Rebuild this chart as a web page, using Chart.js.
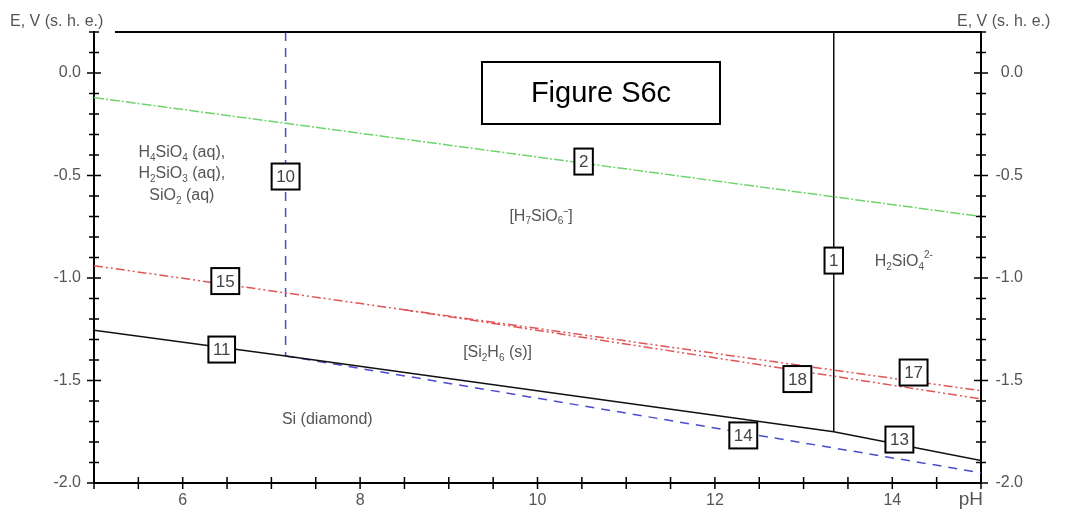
<!DOCTYPE html>
<html>
<head>
<meta charset="utf-8">
<script src="https://cdn.jsdelivr.net/npm/chart.js@4.4.1/dist/chart.umd.min.js"></script>
<style>
  body { margin: 0; background: #fff; }
  canvas { display: block; }
</style>
</head>
<body>
<canvas id="chart" width="1068" height="514"></canvas>
<script>
// pH / E (V vs SHE) points
var waterPH = [5, 15];
var waterE = [-0.12, -0.70];

var line10PH = [7.16, 7.16];
var line10E = [0.2, -1.38];

var line1PH = [13.34, 13.34];
var line1E = [0.2, -1.75];

var siPH = [5, 7.16, 13.34, 15];
var siE = [-1.255, -1.38, -1.75, -1.89];

var line14PH = [7.16, 15];
var line14E = [-1.38, -1.95];

var line17PH = [5, 8.5, 15];
var line17E = [-0.94, -1.155, -1.55];

var line18PH = [8.5, 15];
var line18E = [-1.155, -1.59];

// boxed line numbers
var boxText = ['10', '2', '15', '11', '1', '18', '17', '14', '13'];
var boxPH = [7.16, 10.52, 6.48, 6.44, 13.34, 12.93, 14.24, 12.32, 14.08];
var boxE = [-0.505, -0.432, -1.015, -1.349, -0.915, -1.493, -1.461, -1.768, -1.788];

// species labels: [text, 0 normal / 1 sub / 2 sup]
var regionText = [
    [['H', 0], ['4', 1], ['SiO', 0], ['4', 1], [' (aq),', 0]],
    [['H', 0], ['2', 1], ['SiO', 0], ['3', 1], [' (aq),', 0]],
    [['SiO', 0], ['2', 1], [' (aq)', 0]],
    [['[H', 0], ['7', 1], ['SiO', 0], ['6', 1], ['\u207B]', 0]],
    [['H', 0], ['2', 1], ['SiO', 0], ['4', 1], ['2-', 2]],
    [['[Si', 0], ['2', 1], ['H', 0], ['6', 1], [' (s)]', 0]],
    [['Si (diamond)', 0]]
];
var regionPH = [5.99, 5.99, 5.99, 10.04, 14.13, 9.55, 7.63];
var regionE = [-0.39, -0.493, -0.60, -0.702, -0.922, -1.366, -1.693];

function pts(xs, ys) {
    return xs.map(function (v, i) { return {x: v, y: ys[i]}; });
}

var FONT = '"Liberation Sans", Arial, sans-serif';

function richText(ctx, parts, cx, cy, size) {
    var small = Math.round(size * 0.65);
    var w = 0;
    parts.forEach(function (p) {
        ctx.font = (p[1] ? small : size) + 'px ' + FONT;
        w += ctx.measureText(p[0]).width;
    });
    var xx = cx - w / 2;
    ctx.textAlign = 'left';
    ctx.textBaseline = 'middle';
    parts.forEach(function (p) {
        ctx.font = (p[1] ? small : size) + 'px ' + FONT;
        var dy = p[1] === 1 ? size * 0.3 : (p[1] === 2 ? -size * 0.45 : 0);
        ctx.fillText(p[0], xx, cy + dy);
        xx += ctx.measureText(p[0]).width;
    });
}

var decor = {
    id: 'decor',
    afterDraw: function (chart) {
        var ctx = chart.ctx, a = chart.chartArea;
        var x = chart.scales.x, y = chart.scales.y;
        ctx.save();
        ctx.strokeStyle = '#000';
        ctx.lineWidth = 2;

        // top frame line
        ctx.beginPath();
        ctx.moveTo(115, a.top);
        ctx.lineTo(a.right, a.top);
        ctx.stroke();

        // tick marks crossing the axes
        ctx.lineWidth = 1.5;
        ctx.beginPath();
        x.ticks.forEach(function (t) {
            var px = x.getPixelForValue(t.value);
            var len = 6;
            ctx.moveTo(px, a.bottom - len);
            ctx.lineTo(px, a.bottom + len);
        });
        y.ticks.forEach(function (t) {
            var py = y.getPixelForValue(t.value);
            var len = t.label ? 7 : 5;
            ctx.moveTo(a.left - len, py);
            ctx.lineTo(a.left + len, py);
            ctx.moveTo(a.right - len, py);
            ctx.lineTo(a.right + len, py);
        });
        ctx.stroke();

        // axis titles
        ctx.fillStyle = '#555';
        ctx.font = '16px ' + FONT;
        ctx.textBaseline = 'middle';
        ctx.textAlign = 'left';
        ctx.fillText('E, V (s. h. e.)', 10, 22);
        ctx.fillText('E, V (s. h. e.)', 957, 22);
        ctx.font = '19px ' + FONT;
        ctx.textAlign = 'right';
        ctx.fillText('pH', a.right + 2, 500);

        // species labels
        ctx.fillStyle = '#555';
        regionText.forEach(function (parts, i) {
            richText(ctx, parts, x.getPixelForValue(regionPH[i]), y.getPixelForValue(regionE[i]), 16);
        });

        // boxed line numbers
        ctx.font = '17px ' + FONT;
        boxText.forEach(function (t, i) {
            var cx = x.getPixelForValue(boxPH[i]);
            var cy = y.getPixelForValue(boxE[i]);
            var w = Math.max(15, ctx.measureText(t).width + 9);
            var h = 26;
            ctx.fillStyle = '#fff';
            ctx.fillRect(cx - w / 2, cy - h / 2, w, h);
            ctx.lineWidth = 2;
            ctx.strokeStyle = '#000';
            ctx.strokeRect(cx - w / 2, cy - h / 2, w, h);
            ctx.fillStyle = '#444';
            ctx.textAlign = 'center';
            ctx.textBaseline = 'middle';
            ctx.fillText(t, cx, cy + 1);
        });

        // figure caption box
        ctx.fillStyle = '#fff';
        ctx.fillRect(482, 62, 238, 62);
        ctx.lineWidth = 2;
        ctx.strokeStyle = '#000';
        ctx.strokeRect(482, 62, 238, 62);
        ctx.fillStyle = '#000';
        ctx.font = '29px ' + FONT;
        ctx.textAlign = 'center';
        ctx.fillText('Figure S6c', 601, 94);

        ctx.restore();
    }
};

function yTick(v) {
    var r = Math.round(v * 10);
    return r % 5 === 0 ? (r / 10).toFixed(1) : '';
}

new Chart(document.getElementById('chart').getContext('2d'), {
    type: 'scatter',
    data: {
        datasets: [
            {data: pts(waterPH, waterE), borderColor: '#6fd46f', borderWidth: 1.5, borderDash: [10, 2, 2, 2]},
            {data: pts(line17PH, line17E), borderColor: '#e05555', borderWidth: 1.5, borderDash: [9, 3, 2, 3, 2, 3]},
            {data: pts(line18PH, line18E), borderColor: '#e05555', borderWidth: 1.5, borderDash: [9, 3, 2, 3, 2, 3]},
            {data: pts(siPH, siE), borderColor: '#111', borderWidth: 1.5},
            {data: pts(line14PH, line14E), borderColor: '#4b4bcf', borderWidth: 1.5, borderDash: [9, 7]},
            {data: pts(line10PH, line10E), borderColor: '#4b4bcf', borderWidth: 1.5, borderDash: [9, 7]},
            {data: pts(line1PH, line1E), borderColor: '#111', borderWidth: 1.5}
        ].map(function (d) {
            d.showLine = true;
            d.pointRadius = 0;
            d.fill = false;
            return d;
        })
    },
    options: {
        responsive: false,
        animation: false,
        layout: {padding: {top: 32, right: 45, left: 0, bottom: 0}},
        plugins: {legend: {display: false}, tooltip: {enabled: false}},
        scales: {
            x: {
                type: 'linear',
                min: 5,
                max: 15,
                grid: {display: false, drawTicks: false},
                border: {display: true, color: '#000', width: 2},
                afterFit: function (s) { s.height = 31; },
                ticks: {
                    stepSize: 0.5,
                    autoSkip: false,
                    maxRotation: 0,
                    padding: 8,
                    color: '#555',
                    font: {family: FONT, size: 16},
                    callback: function (v) { return (v % 2 === 0 && v >= 6 && v <= 14) ? String(v) : ''; }
                }
            },
            y: {
                type: 'linear',
                position: 'left',
                min: -2,
                max: 0.2,
                grid: {display: false, drawTicks: false},
                border: {display: true, color: '#000', width: 2},
                afterFit: function (s) { s.width = 94; },
                ticks: {
                    stepSize: 0.1,
                    autoSkip: false,
                    padding: 13,
                    color: '#555',
                    font: {family: FONT, size: 16},
                    callback: yTick
                }
            },
            y2: {
                type: 'linear',
                position: 'right',
                min: -2,
                max: 0.2,
                grid: {display: false, drawTicks: false},
                border: {display: true, color: '#000', width: 2},
                afterFit: function (s) { s.width = 42; },
                ticks: {
                    stepSize: 0.1,
                    autoSkip: false,
                    crossAlign: 'far',
                    color: '#555',
                    font: {family: FONT, size: 16},
                    callback: yTick
                }
            }
        }
    },
    plugins: [decor]
});
</script>
</body>
</html>
